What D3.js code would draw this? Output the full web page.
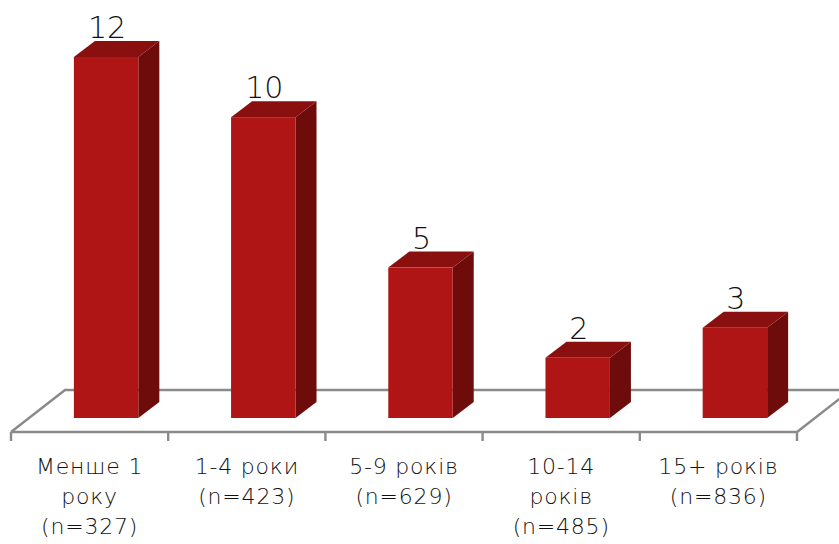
<!DOCTYPE html>
<html>
<head>
<meta charset="utf-8">
<script src="https://cdn.jsdelivr.net/npm/d3@7"></script>
<style>
  html, body { margin: 0; padding: 0; background: #ffffff; }
  svg { display: block; }
  text { font-family: "DejaVu Sans", "Noto Sans", sans-serif; fill: #111; }
</style>
</head>
<body>
<svg id="chart" width="839" height="544"></svg>
<script>
// Categories (each entry is the multi-line axis label)
const categories = ["Менше 1 року", "1-4 роки", "5-9 років", "10-14 років", "15+ років"];
const categoryLines = [
  ["Менше 1", "року", "(n=327)"],
  ["1-4 роки", "(n=423)"],
  ["5-9 років", "(n=629)"],
  ["10-14", "років", "(n=485)"],
  ["15+ років", "(n=836)"]
];
const values = [12, 10, 5, 2, 3];

const W = 839, H = 544;
const svg = d3.select("#chart");

// Floor geometry (front edge and perspective depth)
const floorFrontY = 432;
const floorDepth = { dx: 54, dy: -42 };
const barDepth = { dx: 21, dy: -16 };
const barPlane = 1 / 3; // bars sit a third of the way into the floor

const x = d3.scaleBand().domain(categories).range([11, 797]).padding(0);
const barBase = floorFrontY + floorDepth.dy * barPlane;
const planeShift = floorDepth.dx * barPlane;
const y = d3.scaleLinear().domain([0, 12]).range([barBase, barBase - 361]);
const barW = x.bandwidth() * 0.41;

// Floor outline
const fl = x.range()[0], fr = x.range()[1];
const floorColor = "#8a8a8a";
const floor = svg.append("g").attr("stroke", floorColor).attr("stroke-width", 2.4).attr("fill", "none");
floor.append("path").attr("d", d3.line()([
  [fl, floorFrontY], [fl + floorDepth.dx, floorFrontY + floorDepth.dy],
  [fr + floorDepth.dx, floorFrontY + floorDepth.dy], [fr, floorFrontY], [fl, floorFrontY]
]));
// Category tick marks on the front edge
const tickPos = categories.map(c => x(c)).concat([fr]);
floor.selectAll("line.tick").data(tickPos).join("line")
  .attr("class", "tick")
  .attr("x1", d => d).attr("x2", d => d)
  .attr("y1", floorFrontY).attr("y2", floorFrontY + 9);

// Bars as 3D boxes
const colFront = "#b01515", colTop = "#8a1010", colSide = "#6e0c0c";
const bars = svg.append("g");
categories.forEach((c, i) => {
  const x0 = x(c) + x.bandwidth() / 2 + planeShift - barW / 2 - 1.5;
  const x1 = x0 + barW;
  const yt = y(values[i]), yb = y(0);
  const g = bars.append("g");
  // side
  g.append("path").attr("fill", colSide).attr("d", d3.line()([
    [x1, yt], [x1 + barDepth.dx, yt + barDepth.dy],
    [x1 + barDepth.dx, yb + barDepth.dy], [x1, yb]
  ]) + "Z");
  // top
  g.append("path").attr("fill", colTop).attr("d", d3.line()([
    [x0, yt], [x0 + barDepth.dx, yt + barDepth.dy],
    [x1 + barDepth.dx, yt + barDepth.dy], [x1, yt]
  ]) + "Z");
  // front
  g.append("rect").attr("fill", colFront)
    .attr("x", x0).attr("y", yt).attr("width", barW).attr("height", yb - yt);
  // value label
  g.append("text")
    .attr("x", (x0 + x1) / 2 + 1)
    .attr("y", yt + barDepth.dy - 3)
    .attr("text-anchor", "middle")
    .attr("font-size", 30)
    .attr("font-weight", 300)
    .text(values[i]);
});

// Category labels
const labels = svg.append("g");
categories.forEach((c, i) => {
  const cx = x(c) + x.bandwidth() / 2;
  const t = labels.append("text")
    .attr("x", cx)
    .attr("y", 474)
    .attr("text-anchor", "middle")
    .attr("font-size", 22)
    .attr("font-weight", 300)
    .attr("letter-spacing", 0.8);
  categoryLines[i].forEach((ln, j) => {
    t.append("tspan").attr("x", cx).attr("dy", j === 0 ? 0 : 30).text(ln);
  });
});
</script>
</body>
</html>
